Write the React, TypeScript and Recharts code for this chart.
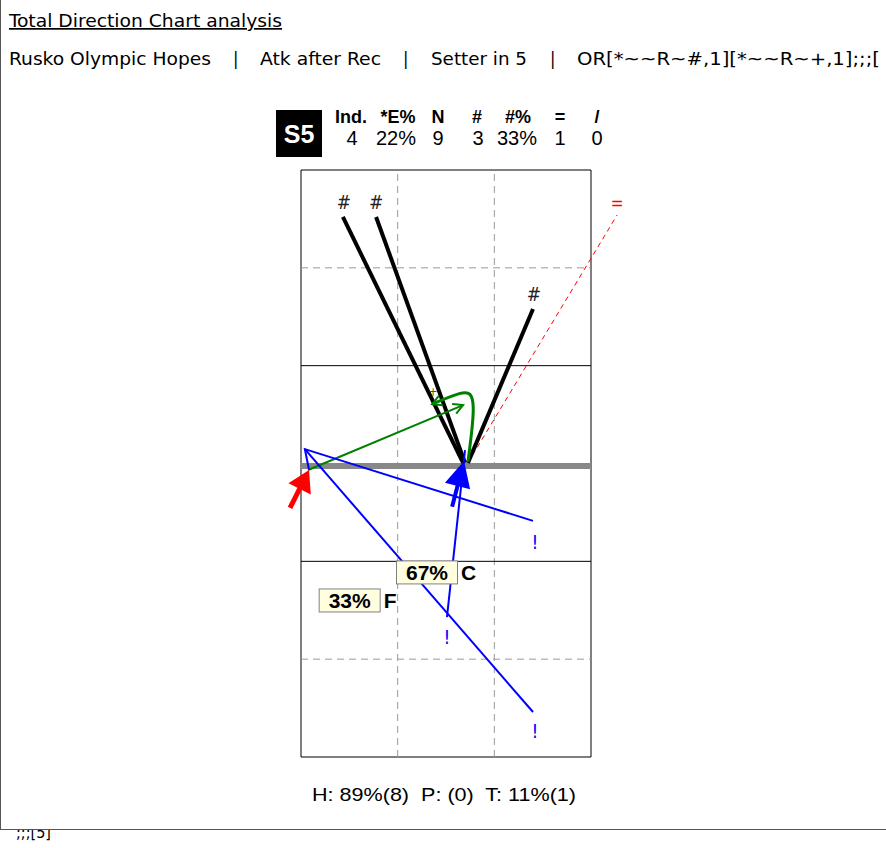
import React from 'react';
import { ComposedChart, Line, Scatter, XAxis, YAxis, ReferenceLine, ReferenceArea } from 'recharts';

// Court in metres: 9 wide, 18 long, net at y = 0, own side below
const W = 886;
const H = 848;

const courtWidth = 9;
const courtHalf = 9;
const attackLineRows = [3, -3];
const dashedRows = [6, -6];
const dashedCols = [3, 6];
const netY = -0.08;

// '#' attacks (kills)
const killLines = [
  [{ x: 5.03, y: 0.02 }, { x: 1.3, y: 7.56 }],
  [{ x: 5.09, y: 0.02 }, { x: 2.33, y: 7.56 }],
  [{ x: 5.18, y: 0.02 }, { x: 7.2, y: 4.74 }],
];
const killMarks = [
  { x: 1.33, y: 8.02, t: '#' },
  { x: 2.33, y: 8.02, t: '#' },
  { x: 7.23, y: 5.2, t: '#' },
];

// '=' error, dashed out of court
const errorLine = [{ x: 5.18, y: 0.02 }, { x: 9.81, y: 7.62 }];
const errorMarks = [{ x: 9.81, y: 7.99, t: '=' }];

// '+' attack, straight and blocked-back curve
const plusLine = [{ x: 0.22, y: -0.2 }, { x: 5.03, y: 1.79 }];
const plusCurve = [
  { x: 5.18, y: 0.05 },
  { x: 5.31, y: 1.03 },
  { x: 5.37, y: 1.79 },
  { x: 5.28, y: 2.16 },
  { x: 5.03, y: 2.22 },
  { x: 4.07, y: 1.82 },
];
const plusMarks = [{ x: 4.1, y: 2.2, t: '+' }];

// '!' balls on own side
const bangLines = [
  [{ x: 0.25, y: -0.2 }, { x: 0.12, y: 0.44 }, { x: 7.2, y: -1.76 }],
  [{ x: 0.12, y: 0.44 }, { x: 7.2, y: -7.62 }],
  [{ x: 5.09, y: 0.41 }, { x: 4.53, y: -4.71 }],
];
const bangMarks = [
  { x: 7.26, y: -2.41, t: '!' },
  { x: 7.26, y: -8.2, t: '!' },
  { x: 4.53, y: -5.32, t: '!' },
];

// big arrows: setter start (red) and set target (blue)
const redArrow = [{ x: -0.34, y: -1.36 }, { x: 0.25, y: -0.2 }];
const blueArrow = [{ x: 4.69, y: -1.33 }, { x: 5.06, y: 0.08 }];

// zone share boxes
const zoneBoxes = [
  { x: 3.91, y: -3.34, pct: '67%', zone: 'C' },
  { x: 1.51, y: -4.2, pct: '33%', zone: 'F' },
];

const statHeads = ['Ind.', '*E%', 'N', '#', '#%', '=', '/'];
const statHeadX = [351, 398, 438, 477, 518, 560, 597];
const statValues = ['4', '22%', '9', '3', '33%', '1', '0'];
const statValueX = [352, 396, 438, 478, 517, 560, 597];

const subtitleParts = [
  { t: 'Rusko Olympic Hopes', x: 9, len: 202 },
  { t: '|', x: 233, len: 0 },
  { t: 'Atk after Rec', x: 260, len: 121 },
  { t: '|', x: 403, len: 0 },
  { t: 'Setter in 5', x: 431, len: 96 },
  { t: '|', x: 550, len: 0 },
  { t: 'OR[*~~R~#,1][*~~R~+,1];;;[', x: 577, len: 303 },
];

const tahoma = 'Tahoma, "DejaVu Sans Condensed", "Liberation Sans", sans-serif';
const arial = '"Liberation Sans", Arial, sans-serif';

const noDot = (p: any) => <g key={p.key} />;

const openArrow = (color: string) => (p: any) => {
  const { cx, cy, index, points, key } = p;
  if (!points || index !== points.length - 1) return <g key={key} />;
  const prev = points[index - 1];
  const a = Math.atan2(cy - prev.y, cx - prev.x);
  const L = 11;
  const s = 0.5;
  const x1 = cx - L * Math.cos(a - s);
  const y1 = cy - L * Math.sin(a - s);
  const x2 = cx - L * Math.cos(a + s);
  const y2 = cy - L * Math.sin(a + s);
  return (
    <path key={key} d={`M${x1},${y1}L${cx},${cy}L${x2},${y2}`} stroke={color} strokeWidth={2} fill="none" />
  );
};

const bigArrow = (color: string, L: number, hw: number, sw: number) => (p: any) => {
  const { cx, cy, index, points, key } = p;
  if (!points || index !== points.length - 1) return <g key={key} />;
  const prev = points[index - 1];
  const a = Math.atan2(cy - prev.y, cx - prev.x);
  const bx = cx - L * Math.cos(a);
  const by = cy - L * Math.sin(a);
  const nx = -Math.sin(a) * hw;
  const ny = Math.cos(a) * hw;
  const sx = bx + 2 * Math.cos(a);
  const sy = by + 2 * Math.sin(a);
  return (
    <g key={key}>
      <line x1={prev.x} y1={prev.y} x2={sx} y2={sy} stroke={color} strokeWidth={sw} />
      <polygon points={`${cx},${cy} ${bx + nx},${by + ny} ${bx - nx},${by - ny}`} fill={color} />
    </g>
  );
};

const markShape = (color: string, size: number) => (p: any) => (
  <text
    x={p.cx}
    y={p.cy}
    dy="0.35em"
    textAnchor="middle"
    fill={color}
    fontSize={size}
    fontFamily={tahoma}
  >
    {p.payload.t}
  </text>
);

const zoneShape = (p: any) => (
  <g>
    <rect x={p.cx - 30.5} y={p.cy - 11.5} width={61} height={23} fill="#ffffe0" stroke="#808080" strokeWidth={1} />
    <text x={p.cx} y={p.cy} dy="0.36em" textAnchor="middle" fontSize={21} fontWeight="bold" fontFamily={arial} fill="#000">
      {p.payload.pct}
    </text>
    <text x={p.cx + 34} y={p.cy} dy="0.36em" fontSize={21} fontWeight="bold" fontFamily={arial} fill="#000">
      {p.payload.zone}
    </text>
  </g>
);

const CourtChart = () => (
  <ComposedChart
    width={W}
    height={H}
    margin={{ top: 170, bottom: 91, left: 236.56, right: 230.55 }}
    style={{ position: 'absolute', left: 0, top: 0 }}
  >
    <XAxis type="number" dataKey="x" domain={[-2, 11]} hide />
    <YAxis type="number" dataKey="y" domain={[-courtHalf, courtHalf]} hide />

    <ReferenceArea x1={0} x2={courtWidth} y1={-courtHalf} y2={courtHalf} fill="#fff" fillOpacity={1} stroke="#000" strokeWidth={1} />
    {dashedCols.map((c) => (
      <ReferenceLine key={`c${c}`} segment={[{ x: c, y: -courtHalf }, { x: c, y: courtHalf }]} stroke="#999" strokeDasharray="7 5" />
    ))}
    {dashedRows.map((r) => (
      <ReferenceLine key={`r${r}`} segment={[{ x: 0, y: r }, { x: courtWidth, y: r }]} stroke="#999" strokeDasharray="7 5" />
    ))}
    {attackLineRows.map((r) => (
      <ReferenceLine key={`a${r}`} segment={[{ x: 0, y: r }, { x: courtWidth, y: r }]} stroke="#000" strokeWidth={1} />
    ))}
    <ReferenceLine segment={[{ x: 0, y: netY }, { x: courtWidth, y: netY }]} stroke="#888" strokeWidth={6} />

    <Line data={errorLine} dataKey="y" stroke="#ff0000" strokeWidth={1} strokeDasharray="5 4" dot={noDot} activeDot={false} isAnimationActive={false} />
    {killLines.map((d, i) => (
      <Line key={`k${i}`} data={d} dataKey="y" stroke="#000" strokeWidth={4} dot={noDot} activeDot={false} isAnimationActive={false} />
    ))}
    <Line data={plusLine} dataKey="y" stroke="#008000" strokeWidth={2} dot={openArrow('#008000')} activeDot={false} isAnimationActive={false} />
    <Line data={plusCurve} type="basis" dataKey="y" stroke="#008000" strokeWidth={3} dot={openArrow('#008000')} activeDot={false} isAnimationActive={false} />
    {bangLines.map((d, i) => (
      <Line key={`b${i}`} data={d} dataKey="y" stroke="#0000ff" strokeWidth={2} dot={noDot} activeDot={false} isAnimationActive={false} />
    ))}
    <Line data={redArrow} dataKey="y" stroke="none" dot={bigArrow('#ff0000', 21, 12.5, 5)} activeDot={false} isAnimationActive={false} />
    <Line data={blueArrow} dataKey="y" stroke="none" dot={bigArrow('#0000ff', 26, 13, 4)} activeDot={false} isAnimationActive={false} />

    <Scatter data={killMarks} dataKey="y" shape={markShape('#222', 19)} isAnimationActive={false} />
    <Scatter data={errorMarks} dataKey="y" shape={markShape('#ff0000', 17)} isAnimationActive={false} />
    <Scatter data={plusMarks} dataKey="y" shape={markShape('#008000', 12)} isAnimationActive={false} />
    <Scatter data={bangMarks} dataKey="y" shape={markShape('#0000ff', 19)} isAnimationActive={false} />
    <Scatter data={zoneBoxes} dataKey="y" shape={zoneShape} isAnimationActive={false} />
  </ComposedChart>
);

const Page = () => (
  <svg width={W} height={H} style={{ position: 'absolute', left: 0, top: 0 }}>
    <text x={16} y={838} fontSize={16} fontFamily={tahoma} fill="#000">;;;[5]</text>
    <rect x={0} y={0} width={W} height={829} fill="#fff" />
    <line x1={0.5} y1={0} x2={0.5} y2={829.5} stroke="#555" />
    <line x1={0} y1={829.5} x2={W} y2={829.5} stroke="#555" />

    <text x={9} y={27} fontSize={17} fontFamily={tahoma} fill="#000" textLength={273} lengthAdjust="spacingAndGlyphs" textDecoration="underline">
      Total Direction Chart analysis
    </text>
    {subtitleParts.map((s, i) => (
      <text
        key={i}
        x={s.x}
        y={65}
        fontSize={18}
        fontFamily={tahoma}
        fill="#000"
        {...(s.len ? { textLength: s.len, lengthAdjust: 'spacingAndGlyphs' } : {})}
      >
        {s.t}
      </text>
    ))}

    <rect x={276} y={110} width={46} height={47} fill="#000" />
    <text x={299} y={143} textAnchor="middle" fontSize={25} fontWeight="bold" fontFamily={arial} fill="#fff">S5</text>
    {statHeads.map((h, i) => (
      <text key={h} x={statHeadX[i]} y={123} textAnchor="middle" fontSize={18} fontWeight="bold" fontFamily={arial} fill="#000">
        {h}
      </text>
    ))}
    {statValues.map((v, i) => (
      <text key={i} x={statValueX[i]} y={145} textAnchor="middle" fontSize={20} fontFamily={arial} fill="#000">
        {v}
      </text>
    ))}

    <text x={312} y={801} fontSize={19} fontFamily={arial} fill="#000" textLength={264} lengthAdjust="spacingAndGlyphs" style={{ whiteSpace: 'pre' }}>
      {'H: 89%(8)  P: (0)  T: 11%(1)'}
    </text>
  </svg>
);

export default function App() {
  return (
    <div style={{ position: 'absolute', left: 0, top: 0, width: W, height: H, overflow: 'hidden', background: '#fff' }}>
      <Page />
      <CourtChart />
    </div>
  );
}
